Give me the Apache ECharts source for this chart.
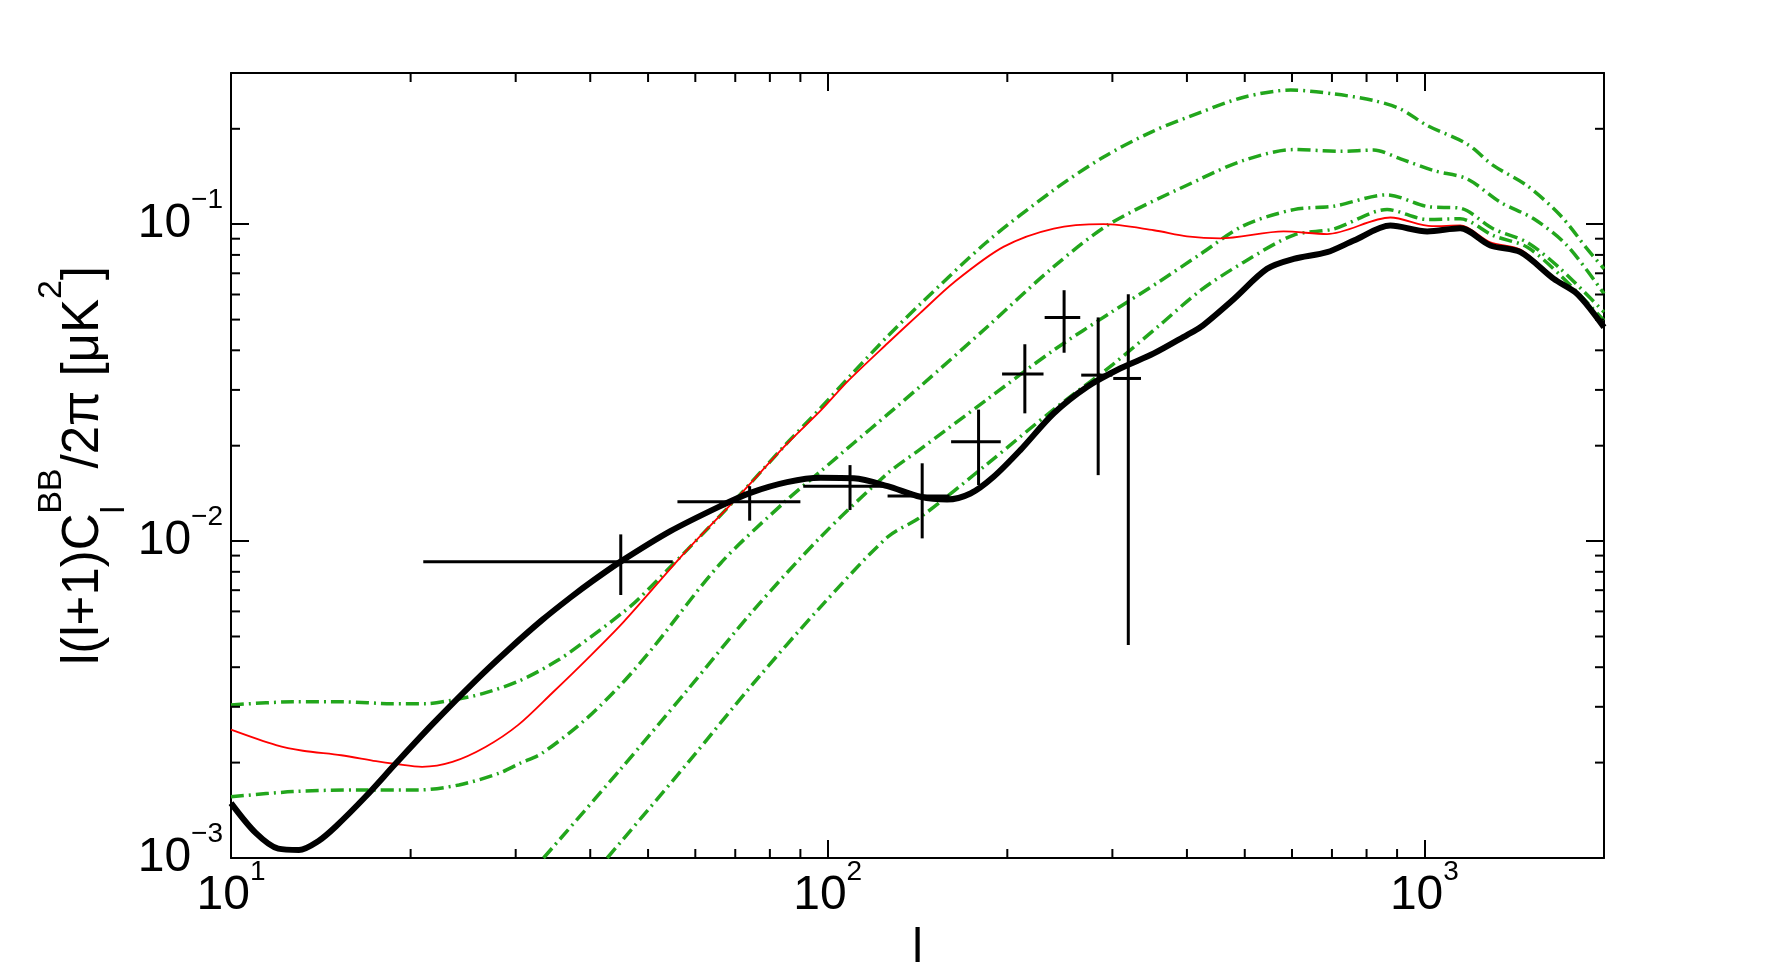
<!DOCTYPE html>
<html>
<head>
<meta charset="utf-8">
<script src="https://cdn.jsdelivr.net/npm/echarts@6/dist/echarts.min.js"></script>
<style>
html,body{margin:0;padding:0;background:#ffffff;}
#chart{width:1772px;height:979px;}
</style>
</head>
<body>
<div id="chart"></div>
<script>
// ---------- axis ranges and ticks ----------
const L_MIN = 10, L_MAX = 2000;
const Y_MIN = 0.001, Y_MAX = 0.3;
const xMinorTicks = [20, 30, 40, 50, 60, 70, 80, 90, 200, 300, 400, 500, 600, 700, 800, 900];
const yMinorTicks = [0.002, 0.003, 0.004, 0.005, 0.006, 0.007, 0.008, 0.009,
                     0.02, 0.03, 0.04, 0.05, 0.06, 0.07, 0.08, 0.09, 0.2];

// ---------- curves [l, l(l+1)C_l/2pi] ----------
const totalBB = [
  [10, 0.00149], [11, 0.0012], [12, 0.00107], [13, 0.00106], [14, 0.00113], [15, 0.00126],
  [16.8, 0.00156], [18.9, 0.00199], [21.7, 0.00263], [25.7, 0.00363], [29.2, 0.00455],
  [33.2, 0.00563], [37.1, 0.00665], [40.3, 0.00747], [44.9, 0.0086], [54.5, 0.01075],
  [66.1, 0.0129], [74.2, 0.0142], [85.5, 0.01535], [97.3, 0.01585], [110.6, 0.01578],
  [126, 0.01491], [143, 0.0138], [158.5, 0.01353], [173.5, 0.01413], [189.7, 0.01596],
  [210.3, 0.01937], [239.3, 0.02531], [272.3, 0.0307], [309.6, 0.0351], [352, 0.0391],
  [400, 0.0447], [421.5, 0.0473], [479, 0.058], [545, 0.0723], [604, 0.0777], [687, 0.0816],
  [761.6, 0.0888], [877, 0.099], [1011, 0.0949], [1148, 0.0971], [1290, 0.0857],
  [1449, 0.0816], [1648, 0.0672], [1803, 0.0603], [2000, 0.0473]
];
const redBB = [
  [10, 0.00254], [11.9, 0.00227], [13.2, 0.00218], [15.3, 0.00211], [17.5, 0.00202],
  [18.9, 0.00198], [20.9, 0.00194], [23.5, 0.00201], [26.7, 0.00224], [30.3, 0.00263],
  [34.5, 0.00331], [39.4, 0.00422], [45.5, 0.00556], [58.2, 0.0094], [70.5, 0.0137],
  [85.5, 0.0203], [97.3, 0.0258], [108.5, 0.0322], [126, 0.0421], [143, 0.0525],
  [162.7, 0.0655], [197, 0.0848], [239.3, 0.0969], [290, 0.1], [352, 0.0957], [400, 0.0916],
  [455, 0.0902], [581, 0.0949], [687, 0.0931], [877, 0.105], [1030, 0.0986], [1148, 0.0991],
  [1290, 0.0877], [1449, 0.0832], [1648, 0.068], [1803, 0.0608], [2000, 0.0477]
];
const greenA = [
  [10, 0.00304], [12.7, 0.00311], [15.4, 0.00311], [18.6, 0.00307], [21.2, 0.00307],
  [23.5, 0.00315], [26.4, 0.0033], [30.4, 0.00362], [35.4, 0.00422], [40, 0.00497],
  [45.5, 0.00598], [48, 0.00652], [58.2, 0.0094], [70.5, 0.0137], [85.5, 0.0204],
  [97.3, 0.0263], [110, 0.0338], [126, 0.0443], [143, 0.056], [185, 0.088],
  [239, 0.128], [290, 0.163], [350, 0.196], [421.5, 0.2254], [498, 0.2516], [597, 0.265],
  [705, 0.2577], [822, 0.2456], [912, 0.231], [1011, 0.2048], [1179, 0.179], [1306, 0.153],
  [1486, 0.1324], [1691, 0.1065], [1874, 0.0836], [2000, 0.0723]
];
const greenB = [
  [10, 0.00156], [12.7, 0.00162], [16.4, 0.00164], [20.6, 0.00164], [24.1, 0.0017],
  [28.1, 0.00185], [30.5, 0.00199], [33.2, 0.00214], [39.4, 0.00275], [45.5, 0.0036],
  [51.1, 0.00464], [66.1, 0.0085], [85.5, 0.0135], [97.3, 0.0166], [110.6, 0.0204],
  [126, 0.0251], [143, 0.0308], [185, 0.0474], [239, 0.0733], [297.7, 0.1005],
  [421.5, 0.139], [498, 0.159], [604, 0.172], [724, 0.1698], [822, 0.1714], [912, 0.1607],
  [1037, 0.1476], [1179, 0.139], [1341, 0.1173], [1525, 0.104], [1734, 0.0857], [2000, 0.0603]
];
const greenC = [
  [33.4, 0.001], [44.9, 0.0019], [58.2, 0.00339], [75.1, 0.00605], [97.3, 0.0103],
  [126, 0.01636], [143, 0.0195], [185, 0.028], [239, 0.04], [300, 0.053], [360, 0.066],
  [421.5, 0.0805], [498, 0.099], [604, 0.1112], [705, 0.114], [866, 0.1238], [1011, 0.1137],
  [1148, 0.1123], [1306, 0.0966], [1486, 0.0877], [1691, 0.0723], [2000, 0.0528]
];
const greenD = [
  [42.7, 0.001], [58.2, 0.00199], [75.1, 0.00356], [97.3, 0.0062], [126, 0.0103],
  [143, 0.0119], [185, 0.0175], [239, 0.026], [300, 0.036], [360, 0.048], [421.5, 0.0618],
  [498, 0.0759], [604, 0.0924], [705, 0.0966], [866, 0.1112], [1011, 0.1035], [1148, 0.104],
  [1306, 0.092], [1486, 0.0847], [1691, 0.0689], [2000, 0.0497]
];

// ---------- band powers ----------
const bandCenter = [45, 74, 109, 144, 179, 214, 249, 284, 319];
const bandLo     = [21, 56, 91, 126, 161, 196, 231, 266, 301];
const bandHi     = [55, 90, 125, 160, 195, 230, 265, 300, 335];
const bandValue  = [0.0086, 0.0133, 0.0149, 0.01387, 0.0206, 0.03365, 0.0508, 0.0334, 0.0326];
const bandErrLo  = [0.00676, 0.0116, 0.01253, 0.0102, 0.01503, 0.0253, 0.0393, 0.01615, 0.0047];
const bandErrHi  = [0.0105, 0.0149, 0.01737, 0.0176, 0.026, 0.0418, 0.0619, 0.0508, 0.0601];

// ---------- styling ----------
const FONT = 'Liberation Sans, Arial, Helvetica, sans-serif';
const GREEN = '#22a61c';
const DASH_DOT = [13, 5, 2, 5];

function powLabel(v) {
  const e = Math.log10(v);
  const r = Math.round(e);
  if (Math.abs(e - r) > 1e-6) return '';
  const exp = r < 0 ? '\u2212' + (-r) : String(r);
  return '{b|10}{s|' + exp + '}';
}
const labelRich = {
  b: { fontSize: 48, lineHeight: 76, fontFamily: FONT, color: '#000' },
  s: { fontSize: 28, lineHeight: 28, verticalAlign: 'top', fontFamily: FONT, color: '#000' }
};

function baseAxis(extra) {
  return Object.assign({
    type: 'log', logBase: 10,
    axisLine: { show: true, onZero: false, lineStyle: { color: '#000', width: 2 } },
    axisTick: { show: true, inside: true, length: 18, lineStyle: { color: '#000', width: 2 } },
    splitLine: { show: false },
    minorTick: { show: false },
    minorSplitLine: { show: false }
  }, extra);
}

const chart = echarts.init(document.getElementById('chart'), null, { renderer: 'canvas' });

const bandData = bandCenter.map((c, i) => [c, bandLo[i], bandHi[i], bandValue[i], bandErrLo[i], bandErrHi[i]]);

function curve(data, color, width, type, z) {
  return { type: 'line', data: data, showSymbol: false, symbol: 'none', smooth: 0.3,
           lineStyle: { color: color, width: width, type: type }, z: z, silent: true };
}

const option = {
  backgroundColor: '#ffffff',
  animation: false,
  grid: { left: 231, top: 73, width: 1373, height: 785, containLabel: false, outerBoundsMode: 'none' },
  xAxis: [
    baseAxis({
      position: 'bottom', min: L_MIN, max: L_MAX,
      axisLabel: { show: true, margin: 0, formatter: powLabel, rich: labelRich, fontFamily: FONT, color: '#000' },
      name: 'l', nameLocation: 'middle', nameGap: 63,
      nameTextStyle: { fontSize: 48, fontFamily: FONT, color: '#000' }
    }),
    baseAxis({
      position: 'top', min: L_MIN, max: L_MAX,
      axisLabel: { show: false }
    })
  ],
  yAxis: [
    baseAxis({
      position: 'left', min: Y_MIN, max: Y_MAX,
      axisLabel: { show: true, margin: 8, formatter: powLabel, rich: labelRich, fontFamily: FONT, color: '#000' },
      name: '{m|l(l+1)C}{sub|l}{sup|BB}{m|/2\u03c0 [\u03bcK}{sup|2}{m|]}',
      nameLocation: 'middle', nameRotate: 90, nameGap: 99, nameMoveOverlap: false,
      nameTextStyle: {
        fontFamily: FONT, color: '#000',
        rich: {
          m: { fontSize: 51, lineHeight: 97, fontFamily: FONT, color: '#000' },
          sup: { fontSize: 34, lineHeight: 38, verticalAlign: 'top', fontFamily: FONT, color: '#000' },
          sub: { fontSize: 34, lineHeight: 38, verticalAlign: 'bottom', fontFamily: FONT, color: '#000', padding: [0, -8, 0, 0] }
        }
      }
    }),
    baseAxis({
      position: 'right', min: Y_MIN, max: Y_MAX,
      axisLabel: { show: false }
    })
  ],
  series: [
    curve(greenA, GREEN, 3.5, DASH_DOT, 2),
    curve(greenB, GREEN, 3.5, DASH_DOT, 2),
    curve(greenC, GREEN, 3.5, DASH_DOT, 2),
    curve(greenD, GREEN, 3.5, DASH_DOT, 2),
    curve(redBB, '#ff0000', 1.8, 'solid', 3),
    curve(totalBB, '#000000', 6, 'solid', 4),
    {
      type: 'custom', z: 5, data: bandData, silent: true,
      encode: { x: [0, 1, 2], y: [3, 4, 5] },
      renderItem: function (params, api) {
        const c = api.coord([api.value(0), api.value(3)]);
        const l = api.coord([api.value(1), api.value(3)]);
        const h = api.coord([api.value(2), api.value(3)]);
        const lo = api.coord([api.value(0), api.value(4)]);
        const hi = api.coord([api.value(0), api.value(5)]);
        const st = { stroke: '#000', lineWidth: 3 };
        return { type: 'group', children: [
          { type: 'line', shape: { x1: l[0], y1: c[1], x2: h[0], y2: c[1] }, style: st },
          { type: 'line', shape: { x1: c[0], y1: lo[1], x2: c[0], y2: hi[1] }, style: st }
        ] };
      }
    },
    {
      type: 'custom', z: 6, data: xMinorTicks.map(v => [v, Y_MIN]),
      encode: { x: 0, y: 1 }, clip: false, silent: true,
      renderItem: function (params, api) {
        const b = api.coord([api.value(0), Y_MIN]);
        const t = api.coord([api.value(0), Y_MAX]);
        const st = { stroke: '#000', lineWidth: 2 };
        return { type: 'group', children: [
          { type: 'line', shape: { x1: b[0], y1: b[1], x2: b[0], y2: b[1] - 9 }, style: st },
          { type: 'line', shape: { x1: t[0], y1: t[1], x2: t[0], y2: t[1] + 9 }, style: st }
        ] };
      }
    },
    {
      type: 'custom', z: 6, data: yMinorTicks.map(v => [L_MIN, v]),
      encode: { x: 0, y: 1 }, clip: false, silent: true,
      renderItem: function (params, api) {
        const l = api.coord([L_MIN, api.value(1)]);
        const r = api.coord([L_MAX, api.value(1)]);
        const st = { stroke: '#000', lineWidth: 2 };
        return { type: 'group', children: [
          { type: 'line', shape: { x1: l[0], y1: l[1], x2: l[0] + 9, y2: l[1] }, style: st },
          { type: 'line', shape: { x1: r[0], y1: r[1], x2: r[0] - 9, y2: r[1] }, style: st }
        ] };
      }
    }
  ]
};
chart.setOption(option);
</script>
</body>
</html>
